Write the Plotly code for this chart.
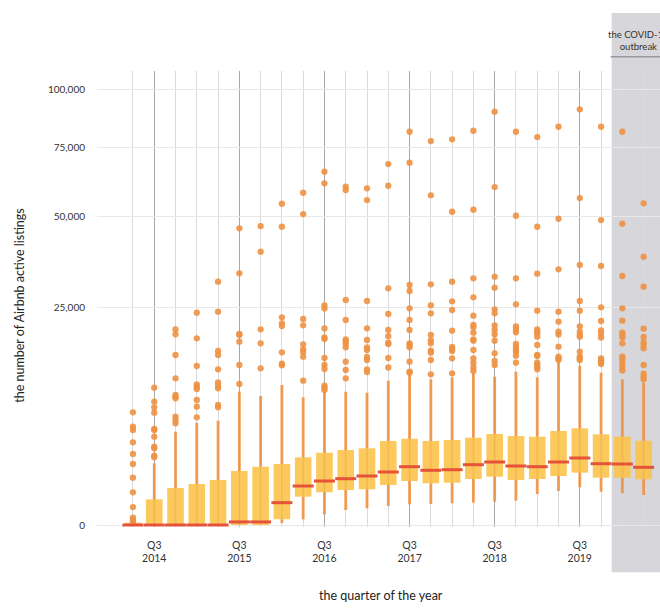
import numpy as np
import plotly.graph_objects as go

quarters = ["2014 Q2", "2014 Q3", "2014 Q4", "2015 Q1", "2015 Q2", "2015 Q3", "2015 Q4",
            "2016 Q1", "2016 Q2", "2016 Q3", "2016 Q4", "2017 Q1", "2017 Q2", "2017 Q3",
            "2017 Q4", "2018 Q1", "2018 Q2", "2018 Q3", "2018 Q4", "2019 Q1", "2019 Q2",
            "2019 Q3", "2019 Q4", "2020 Q1", "2020 Q2"]

q1_vals = [0, 0, 0, 0, 0, 0, 0, 17, 421, 562, 644, 670, 842, 1018, 915, 941, 1113, 1227,
           1065, 1113, 1263, 1439, 1177, 1177, 1099]
median_vals = [0, 0, 0, 0, 0, 5, 5, 262, 800, 1018, 1128, 1263, 1478, 1788, 1574, 1609, 1913,
               2088, 1831, 1788, 2088, 2361, 1977, 1957, 1751]
q3_vals = [3, 347, 720, 884, 1065, 1534, 1788, 1957, 2411, 2750, 2959, 3094, 3711, 3918, 3711,
           3800, 4009, 4356, 4166, 4101, 4648, 4918, 4327, 4101, 3738]
low_whisker = [0, 0, 0, 0, 0, 0, 0, 2, 17, 60, 118, 147, 190, 225, 232, 248, 262, 286, 311,
               505, 608, 748, 583, 528, 473]
high_whisker = [3, 2003, 4580, 5505, 5722, 9346, 8753, 10310, 8577, 9346, 9346, 9207, 10953,
                11835, 11166, 11475, 12105, 11568, 12361, 11475, 14027, 13298, 12201, 11166, 10651]
outliers = [
    [6680, 5080, 4748, 3598, 2652, 1957, 1177, 562, 170, 28, 13, 3],
    [9916, 7997, 7287, 6633, 4848, 4747, 4101, 3225, 3094, 2526, 2411],
    [20145, 19129, 15201, 11320, 8889, 8658, 8444, 6169, 5799, 5440],
    [23707, 18335, 13298, 10413, 10061, 9729, 8219, 7361, 6101],
    [31137, 23932, 15925, 15201, 12751, 10711, 10207, 9829, 7574, 7287],
    [46304, 33324, 19189, 18989, 17673, 13466, 10457],
    [47025, 39289, 20145, 17366, 12916],
    [54301, 46805, 22691, 21399, 20830, 15688, 13685, 13415],
    [58083, 50875, 22321, 20977, 17175, 16238, 15743, 14899, 10952],
    [65656, 61415, 25343, 24655, 20310, 18492, 18197, 14670, 13466, 12801, 10207, 9916, 9586],
    [60199, 59030, 26629, 22105, 18139, 17673, 17232, 16610, 14027, 12637, 11320],
    [59631, 55559, 26393, 20351, 18002, 16610, 16109, 14846, 14320, 12751, 12313],
    [68549, 60555, 29470, 23418, 20001, 18749, 17481, 17232, 14670, 13048],
    [81364, 69043, 30298, 28802, 24700, 22105, 20001, 17366, 17042, 16610, 14027, 12361, 12201],
    [77562, 57177, 30474, 25389, 23574, 18989, 17944, 17366, 15980, 15615, 14320, 11946],
    [78250, 51631, 31137, 26322, 24314, 19858, 16666, 16293, 15925, 14617, 12105],
    [81778, 52292, 32013, 27272, 23042, 21040, 20559, 19451, 18139, 17866, 16109, 14617, 13855, 13081, 12475],
    [89850, 60092, 32430, 29620, 24473, 23574, 20935, 20001, 19089, 17866, 15507, 14147, 13466],
    [81364, 50320, 32013, 25620, 20768, 20145, 19532, 17232, 16610, 16109, 15797, 15076, 13855],
    [79186, 46805, 33218, 24156, 20104, 19654, 19330, 18650, 17042, 15201, 15023, 13855, 13466, 13081, 12751],
    [83446, 49349, 34391, 23932, 21740, 19654, 19089, 16722, 14899, 14617, 14320],
    [90896, 56245, 35558, 26393, 24156, 20768, 19654, 18989, 18650, 15797, 14899, 14617, 14320],
    [83446, 48931, 35285, 24929, 21890, 19940, 19249, 18492, 14617, 14234, 13890, 13634],
    [81364, 47751, 32613, 24700, 21954, 19451, 18989, 18492, 17366, 14899, 14442, 13855, 13181, 12556],
    [54436, 37864, 29870, 20269, 18591, 17615, 17042, 16423, 13466, 12041, 11522, 11166],
]
y_tick_values = [0, 25000, 50000, 75000, 100000]
y_tick_labels = ["0", "25,000", "50,000", "75,000", "100,000"]
x_tick_quarters = ["2014 Q3", "2015 Q3", "2016 Q3", "2017 Q3", "2018 Q3", "2019 Q3"]
x_tick_labels = ["Q3<br>2014", "Q3<br>2015", "Q3<br>2016", "Q3<br>2017", "Q3<br>2018", "Q3<br>2019"]
covid_quarters = ["2020 Q1", "2020 Q2"]

FONT = "Lato"
ORANGE = "rgba(238,145,66,0.9)"
YELLOW = "rgba(252,195,70,0.88)"
RED = "#E4533A"

xs = list(range(len(quarters)))
sq = np.sqrt

fig = go.Figure()

# whiskers (outside the box)
wx, wy = [], []
for i in xs:
    wx += [i, i, None, i, i, None]
    wy += [sq(low_whisker[i]), sq(q1_vals[i]), None, sq(q3_vals[i]), sq(high_whisker[i]), None]
fig.add_trace(go.Scatter(x=wx, y=wy, mode="lines", line=dict(color=ORANGE, width=2.8),
                         hoverinfo="skip"))

# boxes
fig.add_trace(go.Bar(
    x=xs,
    y=[sq(q3_vals[i]) - sq(q1_vals[i]) for i in xs],
    base=[sq(v) for v in q1_vals],
    width=0.78,
    marker=dict(color=YELLOW, line=dict(width=0)),
    hoverinfo="skip",
))

# faint whisker through the box
ix, iy = [], []
for i in xs:
    ix += [i, i, None]
    iy += [sq(q1_vals[i]), sq(q3_vals[i]), None]
fig.add_trace(go.Scatter(x=ix, y=iy, mode="lines",
                         line=dict(color="rgba(238,142,62,0.22)", width=2), hoverinfo="skip"))

# outliers
ox, oy = [], []
for i in xs:
    for v in outliers[i]:
        ox.append(i)
        oy.append(sq(v))
fig.add_trace(go.Scatter(x=ox, y=oy, mode="markers",
                         marker=dict(color=ORANGE, size=6.3, line=dict(width=0)),
                         hoverinfo="skip"))

# medians
fig.add_trace(go.Scatter(x=xs, y=[sq(v) for v in median_vals], mode="markers",
                         marker=dict(symbol="line-ew", size=15,
                                     line=dict(width=3, color=RED)),
                         hoverinfo="skip"))

q3_pos = [quarters.index(q) for q in x_tick_quarters]
covid_pos = [quarters.index(q) for q in covid_quarters]

fig.update_layout(
    width=660, height=608,
    margin=dict(l=97, r=0, t=71, b=81),
    paper_bgcolor="white",
    plot_bgcolor="rgba(0,0,0,0)",
    showlegend=False,
    font=dict(family=FONT, color="#333333"),
    xaxis=dict(
        range=[-1.69, 24.77],
        tickmode="array", tickvals=q3_pos, ticktext=x_tick_labels,
        showgrid=True, gridcolor="#a8a8a8", gridwidth=1.3,
        minor=dict(tickmode="array", tickvals=xs, showgrid=True,
                   gridcolor="#dadada", gridwidth=1.3),
        zeroline=False, showline=False,
        ticks="outside", ticklen=8, tickcolor="rgba(0,0,0,0)",
        tickfont=dict(size=10.5, color="#333333", family=FONT),
    ),
    yaxis=dict(
        range=[-1.45, 329.3],
        tickmode="array", tickvals=[sq(v) for v in y_tick_values], ticktext=y_tick_labels,
        showgrid=True, gridcolor="#e8e8e8", gridwidth=1.2,
        zeroline=False, showline=False,
        ticks="outside", ticklen=9, tickcolor="rgba(0,0,0,0)",
        tickfont=dict(size=10, color="#333333", family=FONT),
    ),
    shapes=[
        dict(type="rect", xref="x", yref="paper",
             x0=covid_pos[0] - 0.5, x1=covid_pos[-1] + 1.5, y0=-0.099, y1=1.127,
             fillcolor="#d7d6da", line=dict(width=0), layer="below"),
        dict(type="line", xref="x", yref="paper",
             x0=covid_pos[0] - 0.55, x1=covid_pos[-1] + 1.5, y0=1.031, y1=1.031,
             line=dict(color="#9a9a9a", width=1.5), layer="below"),
    ],
    annotations=[
        dict(text="the quarter of the year", xref="paper", yref="paper",
             x=0.505, y=-0.151, xanchor="center", yanchor="middle", showarrow=False,
             font=dict(size=12.5, color="#222222", family=FONT)),
        dict(text="the number of Airbnb active listings", xref="paper", yref="paper",
             x=-0.137, y=0.487, xanchor="center", yanchor="middle", textangle=-90,
             showarrow=False, font=dict(size=12.5, color="#222222", family=FONT)),
        dict(text="the COVID-19<br>outbreak", xref="x", yref="paper",
             x=(covid_pos[0] + covid_pos[-1]) / 2 + 0.25, y=1.066,
             xanchor="center", yanchor="middle", showarrow=False,
             font=dict(size=9.5, color="#333333", family=FONT)),
    ],
)

fig.write_html(
    "out.html",
    config={"displayModeBar": False},
    post_script="document.body.style.margin='0';document.body.style.overflow='hidden';"
                "document.documentElement.style.overflow='hidden';",
)
